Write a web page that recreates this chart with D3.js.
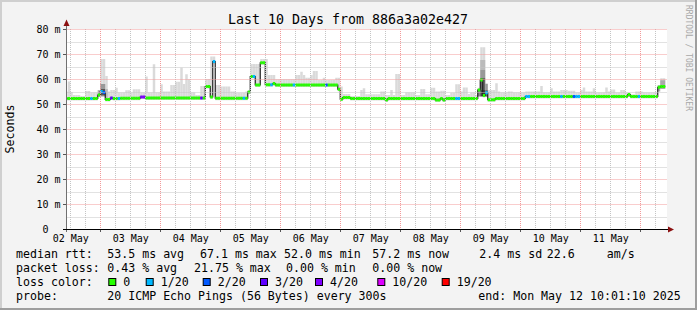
<!DOCTYPE html>
<html><head><meta charset="utf-8">
<script src="https://cdn.jsdelivr.net/npm/d3@7"></script>
<style>
body{margin:0;background:#fff;}
svg text{font-family:"DejaVu Sans Mono",monospace;}
</style></head>
<body><svg id="c" width="697" height="310"></svg>
<script>
// ---------------- data ----------------
const title = "Last 10 Days from 886a3a02e427";
const yTicks = [0,10,20,30,40,50,60,70,80];
const yTickLabels = ["0","10 m","20 m","30 m","40 m","50 m","60 m","70 m","80 m"];
const dayLabels = ["02 May","03 May","04 May","05 May","06 May","07 May","08 May","09 May","10 May","11 May"];
const lossColors = ["#26ff00","#00b8ff","#0059ff","#5e00ff","#7e00ff","#dd00ff","#ff0000"];
const lossLabels = ["0","1/20","2/20","3/20","4/20","10/20","19/20"];

// median rtt (ms) per hourly bucket: [startHour, endHour, median, lossClass]
const medianRuns = [
 [0,10,52.2,0],[10,11,52.2,1],[11,13,52.2,0],[13,14,53.6,0],[14,15,55.0,1],[15,16,54.6,2],
 [16,18,51.8,0],[18,19,52.4,3],[19,21,52.2,0],[21,22,52.2,1],[22,30,52.3,0],[30,32,52.8,4],
 [32,54,52.4,0],[54,55,52.4,3],[55,56,52.4,0],[56,58,57.0,0],[58,59,52.8,0],[59,60,67.0,1],
 [60,71,52.3,0],[71,72,52.3,1],[72,73,52.3,0],[73,74,54.8,0],[74,75,61.0,0],[75,76,61.0,1],
 [76,78,57.6,0],[78,80,66.5,0],[80,82,57.7,0],[82,83,57.7,1],[83,84,58.2,0],[84,91,57.6,0],
 [91,92,57.6,1],[92,104,57.6,0],[104,105,57.6,2],[105,109,57.6,0],[109,110,55.9,0],
 [110,111,51.9,0],[111,114,52.6,0],[114,128,52.2,0],[128,129,51.6,0],[129,148,52.2,0],
 [148,150,51.6,0],[150,151,52.2,0],[151,152,51.6,0],[152,156,52.2,0],[156,158,52.2,1],
 [158,165,52.2,0],[165,166,55.6,0],[166,167,59.6,0],[167,168,53.4,0],[168,169,54.5,1],
 [169,172,51.7,0],[172,184,52.2,0],[184,186,53.0,1],[186,198,53.0,0],[198,199,53.0,1],
 [199,203,53.0,0],[203,204,53.0,2],[204,206,53.0,1],[206,225,53.0,0],[225,226,53.8,0],
 [226,229,53.0,0],[229,230,53.0,1],[230,237,53.0,0],[237,238,56.7,0],[238,240,57.0,0]
];

// smoke top (max ping, ms): [startHour, endHour, top]
const smokeRuns = [
 [0,1,55],[1,2,59],[2,3,54.8],[3,6,53.6],[6,8,53.2],[8,10,55.2],[10,13,54.6],[13,14,55.6],
 [14,16,68],[16,17,61.2],[17,18,55],[18,20,55.6],[20,21,56.5],[21,24,54.6],[24,26,55.5],
 [26,27,54.6],[27,30,55.9],[30,32,54.6],[32,33,61],[33,35,54.6],[35,36,65.9],[36,38,54.6],
 [38,39,57.9],[39,42,55],[42,44,57.6],[44,46,58.9],[46,47,64.5],[47,48,58],[48,49,61.9],
 [49,50,59.9],[50,52,54.6],[52,54,53.6],[54,56,57.2],[56,58,60],[58,60,69],[60,62,57.6],
 [62,66,57],[66,68,55],[68,72,54.5],[72,74,55],[74,78,66],[78,81,68],[81,84,61.6],
 [84,92,59.9],[92,94,61.6],[94,95,62.9],[95,96,61.6],[96,98,60.5],[98,99,61.6],[99,101,63.2],
 [101,103,59.6],[103,104,60.5],[104,108,59.6],[108,110,60.5],[110,111,57],[111,114,54],
 [114,118,53.2],[118,119,55.6],[119,120,56.3],[120,126,53.9],[126,128,55],[128,130,53.6],
 [130,131,55.6],[131,132,53.6],[132,134,62],[134,136,53.6],[136,140,54.6],[140,142,53.6],
 [142,144,56],[144,146,53.9],[146,148,56.5],[148,150,55],[150,152,55.3],[152,154,53.6],
 [154,156,54.5],[156,158,57.9],[158,159,55],[159,161,56.6],[161,162,54],[162,164,54.6],
 [164,165,53.6],[165,166,56.5],[166,168,72.7],[168,169,58.3],[169,172,55.6],[172,173,58.3],
 [173,174,55],[174,177,54.6],[177,179,55],[179,184,54.6],[184,190,55],[190,191,57.2],
 [191,194,54.6],[194,195,56.3],[195,198,55],[198,201,55.6],[201,204,55.3],[204,206,54.6],
 [206,207,55.6],[207,208,56.6],[208,211,55],[211,212,56.3],[212,216,54.6],[216,217,56.6],
 [217,218,55],[218,220,55.8],[220,222,54.6],[222,224,55.6],[224,226,54.6],[226,228,53.9],
 [228,231,55],[231,238,54.6],[238,240,60.3]
];

// darker smoke bands (denser pings): [startHour, endHour, low, high, shade]
const smokeDense = [
 [13,14,53,55.5,"#aaaaaa"],[14,16,53,58,"#999999"],[14,16,53.5,56,"#555555"],[16,17,52,56,"#bbbbbb"],
 [165,166,53,56,"#888888"],[166,168,63.6,67.6,"#bbbbbb"],[166,168,60.4,63.6,"#999999"],
 [166,168,55.6,60.4,"#666666"],[166,168,53,55.6,"#444444"],[168,169,53,58,"#999999"],
 [168,169,53,55.5,"#666666"],[237,238,55,57.5,"#aaaaaa"],[238,240,56,59.5,"#aaaaaa"]
];

const rttLegend = [[16,"median rtt:"],[107.3,"53.5 ms avg"],[200,"67.1 ms max"],[284,"52.0 ms min"],[372.3,"57.2 ms now"],[479.3,"2.4 ms sd"],[546.7,"22.6"],[606.7,"am/s"]];
const lossLegend = [[16,"packet loss:"],[107.3,"0.43 % avg"],[194,"21.75 % max"],[286,"0.00 % min"],[372.3,"0.00 % now"]];
const colorLegendX = [108.3,145.7,202.7,260,315,377.3,441.7];
const probeLegend = [[16,"probe:"],[107.3,"20 ICMP Echo Pings (56 Bytes) every 300s"],[478.3,"end: Mon May 12 10:01:10 2025"]];

// ---------------- drawing ----------------
const svg = d3.select("#c");
const W = 697, H = 310;
const t0 = Date.UTC(2025,4,2,10,0,0);
const tStart = Date.UTC(2025,4,2,10,1,10), tEnd = Date.UTC(2025,4,12,10,1,10);
const x = d3.scaleUtc().domain([tStart, tEnd]).range([65.3, 665.3]);
const y = d3.scaleLinear().domain([0,80]).range([229,29]);
const hr = h => new Date(t0 + h*3600e3);
const PL = 66.5, PR = 667, PT = 29, PB = 229;

// expand runs into hourly arrays
const N = 240;
const med = new Array(N), loss = new Array(N), smoke = new Array(N);
medianRuns.forEach(([a,b,v,l]) => { for (let h=a; h<b; h++){ med[h]=v; loss[h]=l; } });
smokeRuns.forEach(([a,b,v]) => { for (let h=a; h<b; h++) smoke[h]=v; });

// background + frame
svg.append("rect").attr("width",W).attr("height",H).attr("fill","#f3f3f3");
svg.append("rect").attr("x",0).attr("y",0).attr("width",W).attr("height",2).attr("fill","#cfcfcf");
svg.append("rect").attr("x",0).attr("y",0).attr("width",2).attr("height",H).attr("fill","#cfcfcf");
svg.append("rect").attr("x",0).attr("y",H-2).attr("width",W).attr("height",2).attr("fill","#9e9e9e");
svg.append("rect").attr("x",W-2).attr("y",0).attr("width",2).attr("height",H).attr("fill","#9e9e9e");

svg.append("rect").attr("x",PL).attr("y",PT).attr("width",PR-PL).attr("height",PB-PT).attr("fill","#ffffff");

svg.append("clipPath").attr("id","clip").append("rect")
  .attr("x",PL).attr("y",PT).attr("width",PR-PL).attr("height",PB-PT);
const g = svg.append("g").attr("clip-path","url(#clip)");

// smoke
const hours = d3.range(N);
g.selectAll("rect.smoke").data(hours).join("rect").attr("class","smoke")
  .attr("x", h => x(hr(h))).attr("width", h => x(hr(h+1)) - x(hr(h)))
  .attr("y", h => y(smoke[h])).attr("height", h => y(med[h]-0.8) - y(smoke[h]))
  .attr("fill","#dadada");
g.selectAll("rect.dense").data(smokeDense).join("rect").attr("class","dense")
  .attr("x", d => x(hr(d[0]))).attr("width", d => x(hr(d[1])) - x(hr(d[0])))
  .attr("y", d => y(d[3])).attr("height", d => y(d[2]) - y(d[3]))
  .attr("fill", d => d[4]);

// median black step line
const linePts = hours.map(h => [x(hr(h)), y(med[h])]).concat([[x(hr(N)), y(med[N-1])]]);
g.append("path").attr("d", d3.line().curve(d3.curveStepAfter)(linePts))
  .attr("fill","none").attr("stroke","#202020").attr("stroke-width",1.2);

// loss coloured median band
g.selectAll("rect.med").data(hours).join("rect").attr("class","med")
  .attr("x", h => x(hr(h))).attr("width", h => x(hr(h+1)) - x(hr(h)))
  .attr("y", h => y(med[h]) - 1.5).attr("height", 3)
  .attr("fill", h => lossColors[loss[h]]);

// grid
const grid = svg.append("g");
const minorH = d3.range(5,81,10);
grid.selectAll("line.mh").data(minorH).join("line")
  .attr("x1",PL).attr("x2",PR).attr("y1",d=>Math.round(y(d))+0.5).attr("y2",d=>Math.round(y(d))+0.5)
  .attr("stroke","#c4c4c4").attr("stroke-dasharray","1,1");
const minorV = d3.utcHour.every(6).range(new Date(tStart), new Date(tEnd)).filter(d => d.getUTCHours()!==0);
grid.selectAll("line.mv").data(minorV).join("line")
  .attr("x1",d=>Math.round(x(d))+0.5).attr("x2",d=>Math.round(x(d))+0.5).attr("y1",PT).attr("y2",PB)
  .attr("stroke","#c4c4c4").attr("stroke-dasharray","1,1");
const majorH = yTicks.filter(v => v>0);
grid.selectAll("line.Mh").data(majorH).join("line")
  .attr("x1",PL).attr("x2",PR).attr("y1",d=>Math.round(y(d))+0.5).attr("y2",d=>Math.round(y(d))+0.5)
  .attr("stroke","#f29a9a").attr("stroke-dasharray","1,1");
const majorV = d3.utcDay.range(new Date(tStart), new Date(tEnd));
grid.selectAll("line.Mv").data(majorV).join("line")
  .attr("x1",d=>Math.round(x(d))+0.5).attr("x2",d=>Math.round(x(d))+0.5).attr("y1",PT).attr("y2",PB)
  .attr("stroke","#f29a9a").attr("stroke-dasharray","1,1");

// axes
const ax = svg.append("g");
ax.selectAll("line.yt").data(yTicks).join("line")
  .attr("x1",63).attr("x2",67).attr("y1",d=>Math.round(y(d))+0.5).attr("y2",d=>Math.round(y(d))+0.5)
  .attr("stroke","#555");
ax.selectAll("line.xt").data(majorV).join("line")
  .attr("x1",d=>Math.round(x(d))+0.5).attr("x2",d=>Math.round(x(d))+0.5).attr("y1",229).attr("y2",232)
  .attr("stroke","#555");
ax.append("line").attr("x1",66.5).attr("x2",66.5).attr("y1",232).attr("y2",25).attr("stroke","#707070");
ax.append("line").attr("x1",63).attr("x2",669).attr("y1",229.5).attr("y2",229.5).attr("stroke","#000");
ax.append("path").attr("d","M63.5,26 L66.5,19.5 L69.5,26 Z").attr("fill","#8b1010");
ax.append("path").attr("d","M668,226.5 L674,229.5 L668,232.5 Z").attr("fill","#8b1010");

ax.selectAll("text.yl").data(yTicks).join("text")
  .attr("x", d => d===0 ? 48.5 : 60.5).attr("y", d => y(d)+3.6)
  .attr("text-anchor","end").attr("font-size","10px").attr("fill","#000")
  .text((d,i) => yTickLabels[i]);
ax.selectAll("text.xl").data(dayLabels).join("text")
  .attr("x", (d,i) => x(new Date(Date.UTC(2025,4,2+i,12))) + 0.5).attr("y", 241.5)
  .attr("text-anchor","middle").attr("font-size","10px").attr("fill","#000")
  .text(d => d);

svg.append("text").attr("x",348).attr("y",24).attr("text-anchor","middle")
  .attr("font-size","13.3px").attr("fill","#000").text(title);
svg.append("text").attr("transform","translate(14,129) rotate(-90)").attr("text-anchor","middle")
  .attr("font-size","11.6px").attr("fill","#000").text("Seconds");
svg.append("text").attr("transform","translate(685.5,5) rotate(90)").attr("text-anchor","start")
  .attr("font-size","8px").attr("fill","#a8a8a8").text("RRDTOOL / TOBI OETIKER");

// legend
const leg = svg.append("g").attr("font-size","11.6px").attr("fill","#000");
const lines = [[rttLegend,258.3],[lossLegend,272.3],[probeLegend,300.3]];
lines.forEach(([items,yy]) => {
  leg.selectAll(null).data(items).join("text").attr("x",d=>d[0]).attr("y",yy)
    .attr("xml:space","preserve").text(d=>d[1]);
});
leg.append("text").attr("x",16).attr("y",286.3).text("loss color:");
leg.selectAll("rect.lc").data(lossColors).join("rect")
  .attr("x",(d,i)=>colorLegendX[i]+0.5).attr("y",278.5).attr("width",7).attr("height",7)
  .attr("fill",d=>d).attr("stroke","#000").attr("stroke-width",1);
leg.selectAll("text.lcl").data(lossLabels).join("text")
  .attr("x",(d,i)=>colorLegendX[i]+15).attr("y",286.3).text(d=>d);
</script></body></html>
